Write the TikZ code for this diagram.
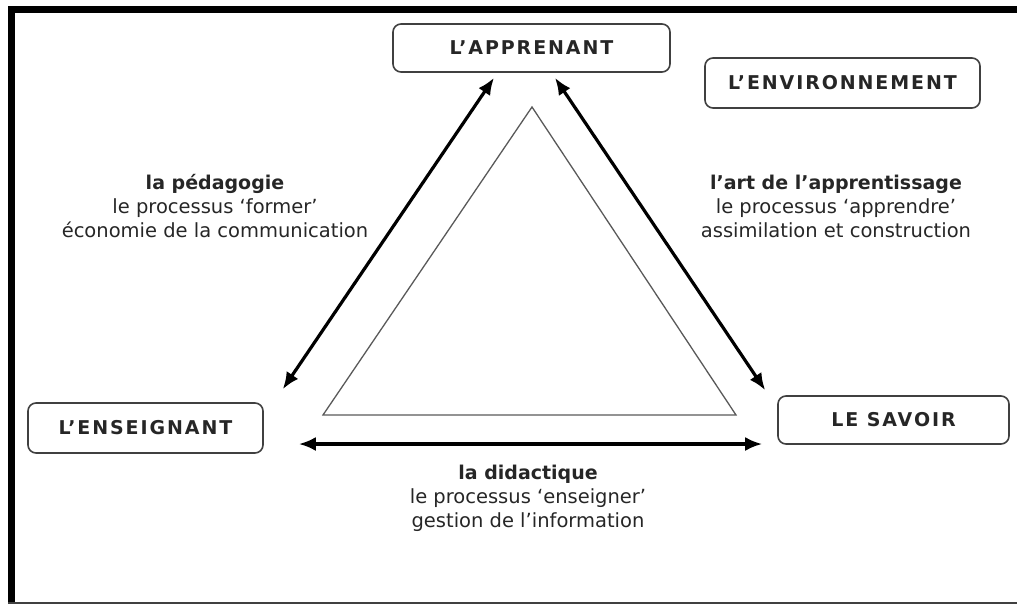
\documentclass[tikz,border=0pt]{standalone}
\usepackage{fontspec}
\setmainfont{DejaVu Sans}
\newfontfamily\polefont[LetterSpace=10]{DejaVu Sans Bold}
\usetikzlibrary{arrows.meta}

\begin{document}
\begin{tikzpicture}[x=1pt,y=-1pt,
  pole/.style={draw=black!75,line width=1.6pt,rounded corners=8pt,inner sep=0pt,
    font=\polefont\fontsize{19}{22}\selectfont,text=black!85},
  lien/.style={line width=3.2pt,{Latex[length=17pt,width=14pt]}-{Latex[length=17pt,width=14pt]}},
  legende/.style={align=center,text=black!85,font=\fontsize{19.5}{24}\selectfont}]

\useasboundingbox (0,0) rectangle (1017,605);
\fill (8,6) rectangle (1017,13);
\fill (8,6) rectangle (15,604);
\draw[black!75,line width=1.5pt] (8,603) -- (1017,603);

\node[pole,minimum width=277pt,minimum height=48pt] (apprenant) at (531.5,48) {L’APPRENANT};
\node[pole,minimum width=275pt,minimum height=50pt] (environnement) at (842.5,83) {L’ENVIRONNEMENT};
\node[pole,minimum width=235pt,minimum height=50pt] (enseignant) at (145.5,428) {L’ENSEIGNANT};
\node[pole,minimum width=231pt,minimum height=48pt] (savoir) at (893.5,420) {LE SAVOIR};

\draw[black!65,line width=1.3pt] (532,107) -- (736,415) -- (323,415) -- cycle;

\draw[lien] ([shift={(19,-13)}]enseignant.north east) -- ([shift={(-37.5,5)}]apprenant.south);
\draw[lien] ([shift={(23.5,5)}]apprenant.south) -- ([shift={(-12,-5)}]savoir.north west);
\draw[lien] ([shift={(35,16)}]enseignant.east) -- ([shift={(-15,24)}]savoir.west);

\node[legende] (pedagogie) at (215,206) {{\fontsize{19}{24}\selectfont\bfseries la pédagogie}\\le processus ‘former’\\économie de la communication};
\node[legende] (apprentissage) at (836,206) {{\fontsize{19}{24}\selectfont\bfseries l’art de l’apprentissage}\\le processus ‘apprendre’\\assimilation et construction};
\node[legende] (didactique) at (528,498) {{\fontsize{19}{24}\selectfont\bfseries la didactique}\\le processus ‘enseigner’\\gestion de l’information};

\end{tikzpicture}
\end{document}
